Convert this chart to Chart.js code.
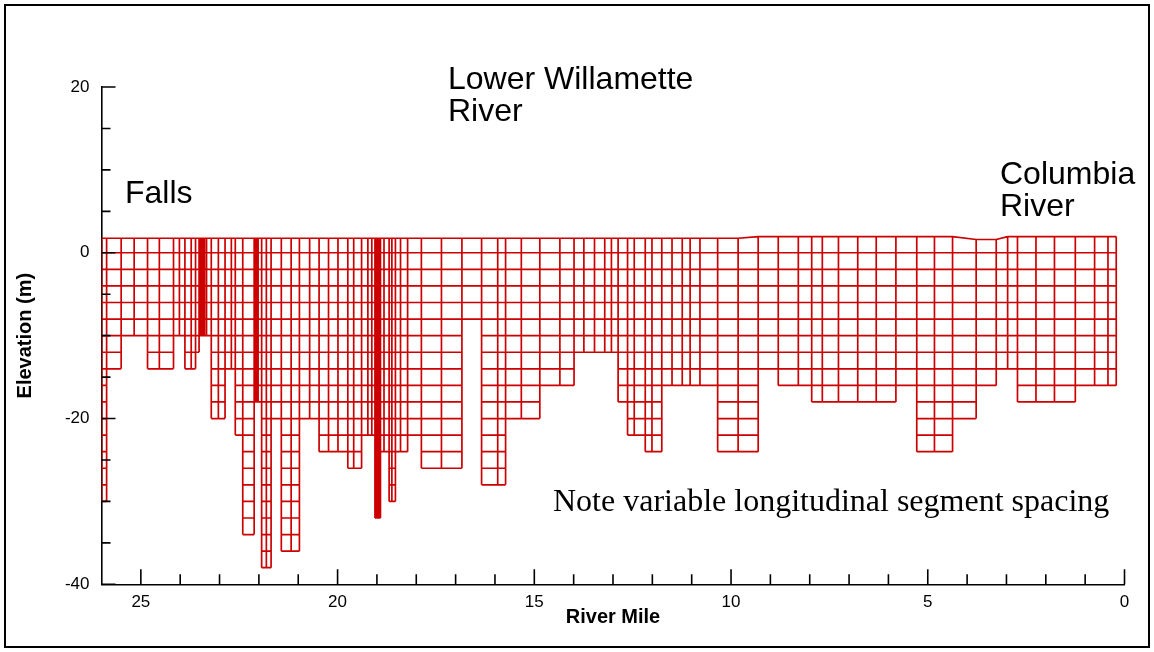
<!DOCTYPE html>
<html>
<head>
<meta charset="utf-8">
<title>Lower Willamette River segments</title>
<script src="https://cdn.jsdelivr.net/npm/chart.js@4.4.1/dist/chart.umd.min.js"></script>
<style>
  html, body { margin: 0; padding: 0; background: #fff; }
  #wrap { position: relative; width: 1154px; height: 652px; }
  #frame { position: absolute; left: 4px; top: 4px; width: 1142px; height: 640px; border: 2px solid #000; pointer-events: none; }
  canvas { display: block; }
</style>
</head>
<body>
<div id="wrap">
  <canvas id="segmentChart" width="1154" height="652"></canvas>
  <div id="frame"></div>
</div>
<script>
// Segment boundaries (river mile), from the Falls down to the Columbia
const segmentEdges = [
  26.00, 25.87, 25.50, 25.17, 24.83, 24.53, 24.17, 24.02, 23.88, 23.72,
  23.61, 23.52, 23.48, 23.45, 23.41, 23.38, 23.33, 23.21, 23.03, 22.86,
  22.70, 22.60, 22.41, 22.12, 22.09, 22.05, 22.02, 21.93, 21.81, 21.69,
  21.43, 21.18, 20.97, 20.71, 20.47, 20.23, 19.99, 19.74, 19.59, 19.39,
  19.23, 19.13, 19.05, 19.02, 18.98, 18.94, 18.91, 18.82, 18.69, 18.62,
  18.53, 18.40, 18.22, 17.87, 17.36, 16.84, 16.34, 15.93, 15.73, 15.33,
  14.86, 14.35, 13.99, 13.74, 13.47, 13.21, 13.04, 12.87, 12.63, 12.46,
  12.18, 12.01, 11.76, 11.50, 11.24, 11.04, 10.79, 10.34, 9.82, 9.31,
  8.80, 8.29, 7.95, 7.68, 7.27, 6.78, 6.31, 5.81, 5.28, 4.83,
  4.37, 3.77, 3.26, 2.97, 2.72, 2.25, 1.78, 1.25, 0.76, 0.42,
  0.21
];

// Bottom elevation of each segment (m)
const segmentBottoms = [
  -30, -14, -10, -10, -14, -14, -10, -10, -14, -14,
  -12, -10, -10, -10, -10, -10, -10, -20, -20, -14,
  -14, -22, -34, -18, -18, -18, -18, -38, -38, -20,
  -36, -36, -20, -20, -24, -24, -24, -26, -26, -22,
  -22, -22, -32, -32, -32, -32, -24, -24, -30, -30,
  -24, -24, -22, -26, -26, -8, -28, -28, -20, -20,
  -16, -16, -12, -12, -12, -12, -12, -18, -22, -22,
  -24, -24, -16, -16, -16, -16, -16, -24, -24, -14,
  -16, -16, -18, -18, -18, -18, -18, -16, -24, -24,
  -20, -16, -14, -14, -18, -18, -18, -16, -16, -16
];

// Water surface profile
const surfaceMiles = [26.0, 9.82, 9.31, 4.37, 3.77, 3.26, 2.97, 0.0];
const surfaceElev = [1.75, 1.75, 1.95, 1.95, 1.6, 1.6, 1.95, 1.95];

const layerThickness = 2;
const xTickValues = [25, 20, 15, 10, 5, 0];
const yTickValues = [20, 0, -20, -40];

const gridRed = '#cc0000';
const sansFamily = '"Liberation Sans", Arial, sans-serif';

function surfaceAt(mile) {
  for (let i = 0; i < surfaceMiles.length - 1; i++) {
    const a = surfaceMiles[i];
    const b = surfaceMiles[i + 1];
    if (mile <= a && mile >= b) {
      const t = a === b ? 0 : (a - mile) / (a - b);
      return surfaceElev[i] + t * (surfaceElev[i + 1] - surfaceElev[i]);
    }
  }
  return surfaceElev[surfaceElev.length - 1];
}

// Every cell outline as line pieces, separated by null points
const gridPoints = [];
function addLine(x1, y1, x2, y2) {
  gridPoints.push({ x: x1, y: y1 }, { x: x2, y: y2 }, { x: x2, y: null });
}

segmentBottoms.forEach((bottom, i) => {
  const left = segmentEdges[i];
  const right = segmentEdges[i + 1];
  addLine(left, surfaceAt(left), right, surfaceAt(right));
  for (let level = 0; level >= bottom; level -= layerThickness) {
    addLine(left, level, right, level);
  }
});

segmentEdges.forEach((edge, i) => {
  const leftBottom = i > 0 ? segmentBottoms[i - 1] : 0;
  const rightBottom = i < segmentBottoms.length ? segmentBottoms[i] : 0;
  addLine(edge, surfaceAt(edge), edge, Math.min(leftBottom, rightBottom));
});

// Inward major/minor tick marks on both axes
const axisTickMarks = {
  id: 'axisTickMarks',
  afterDraw(chart) {
    const { ctx, chartArea, scales } = chart;
    ctx.save();
    ctx.strokeStyle = '#000';
    ctx.lineWidth = 1.6;
    ctx.beginPath();
    for (let m = 0; m <= 25; m++) {
      const px = scales.x.getPixelForValue(m);
      const len = m % 5 === 0 ? 15 : 10;
      ctx.moveTo(px, chartArea.bottom);
      ctx.lineTo(px, chartArea.bottom - len);
    }
    for (let v = -40; v <= 20; v += 5) {
      const py = scales.y.getPixelForValue(v);
      const len = v % 20 === 0 ? 14 : 9;
      ctx.moveTo(chartArea.left, py);
      ctx.lineTo(chartArea.left + len, py);
    }
    ctx.stroke();
    ctx.restore();
  }
};

const reachLabels = {
  id: 'reachLabels',
  afterDraw(chart) {
    const ctx = chart.ctx;
    ctx.save();
    ctx.fillStyle = '#000';
    ctx.textAlign = 'left';
    ctx.textBaseline = 'middle';
    ctx.font = '32px ' + sansFamily;
    ctx.fillText('Lower Willamette', 448, 80);
    ctx.fillText('River', 448, 112);
    ctx.fillText('Falls', 125, 194);
    ctx.fillText('Columbia', 1000, 175);
    ctx.fillText('River', 1000, 207);
    ctx.font = '32px "Liberation Serif", "Times New Roman", serif';
    ctx.fillText('Note variable longitudinal segment spacing', 553, 503);
    ctx.restore();
  }
};

new Chart(document.getElementById('segmentChart'), {
  type: 'scatter',
  data: {
    datasets: [{
      data: gridPoints,
      showLine: true,
      spanGaps: false,
      borderColor: gridRed,
      borderWidth: 1.7,
      pointRadius: 0,
      fill: false,
      tension: 0
    }]
  },
  options: {
    responsive: false,
    animation: false,
    events: [],
    layout: { padding: { left: 0, top: 87, right: 29.5, bottom: 0 } },
    plugins: {
      legend: { display: false },
      tooltip: { enabled: false }
    },
    scales: {
      x: {
        type: 'linear',
        reverse: true,
        min: 0,
        max: 26,
        z: 1,
        afterBuildTicks: (scale) => { scale.ticks = xTickValues.map((v) => ({ value: v })); },
        afterFit: (scale) => { scale.height = 67.7; },
        grid: { display: false, drawTicks: false },
        border: { display: true, color: '#000', width: 1.6 },
        ticks: {
          padding: 8,
          color: '#000',
          autoSkip: false,
          maxRotation: 0,
          font: { family: '"Liberation Sans Narrow", ' + sansFamily, size: 17 }
        },
        title: {
          display: true,
          text: 'River Mile',
          color: '#000',
          font: { family: sansFamily, size: 20, weight: 'bold' },
          padding: { top: 0, bottom: 23 }
        }
      },
      y: {
        type: 'linear',
        min: -40,
        max: 20,
        z: 1,
        afterBuildTicks: (scale) => { scale.ticks = yTickValues.map((v) => ({ value: v })); },
        afterFit: (scale) => { scale.width = 101.5; },
        grid: { display: false, drawTicks: false },
        border: { display: true, color: '#000', width: 1.6 },
        ticks: {
          padding: 12,
          color: '#000',
          font: { family: sansFamily, size: 17 }
        },
        title: {
          display: true,
          text: 'Elevation (m)',
          color: '#000',
          font: { family: sansFamily, size: 20, weight: 'bold' },
          padding: { top: 13, bottom: 0 }
        }
      }
    }
  },
  plugins: [axisTickMarks, reachLabels]
});
</script>
</body>
</html>
